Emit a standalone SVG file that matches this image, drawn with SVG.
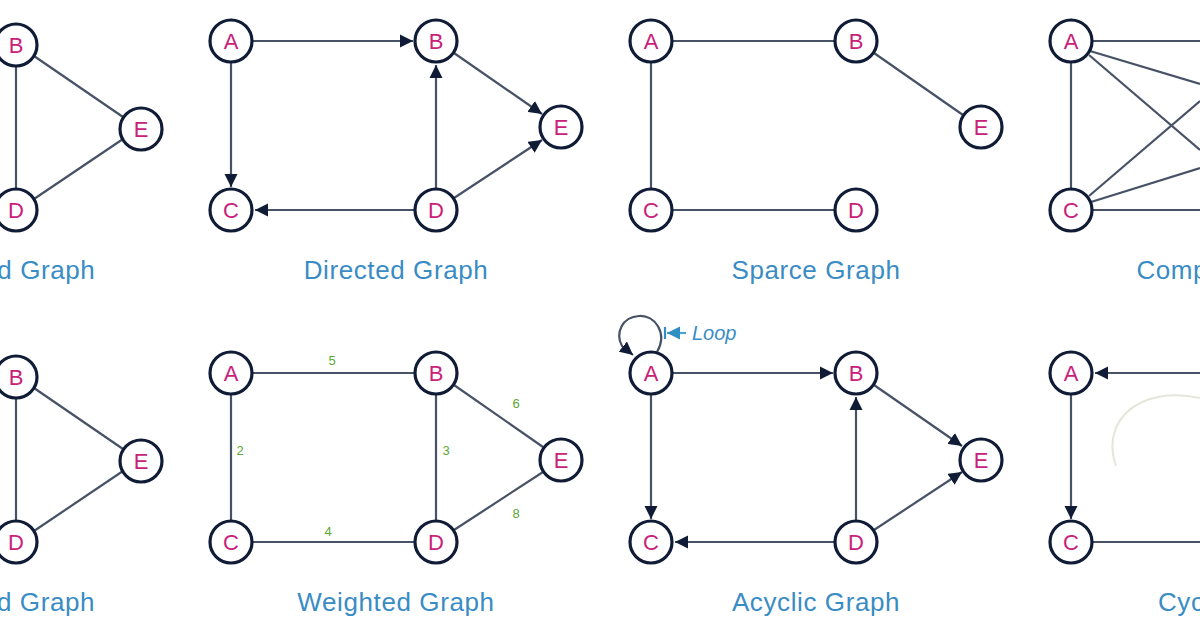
<svg xmlns="http://www.w3.org/2000/svg" width="1200" height="627" viewBox="0 0 1200 627">
<style>
.n circle{fill:#fff;stroke:#101c36;stroke-width:3.2}
.n text{font-family:"Liberation Sans",Arial,sans-serif;font-size:22px;fill:#c8217a;text-anchor:middle;dominant-baseline:central}
.e line,.e path{stroke:#475266;stroke-width:2.2;fill:none}
.t{font-family:"Liberation Sans",Arial,sans-serif;font-size:26px;fill:#3a8cc4;text-anchor:middle;letter-spacing:0.6px}
.w{font-family:"Liberation Sans",Arial,sans-serif;font-size:13px;fill:#5aa832;text-anchor:middle}
</style>
<defs>
<marker id="ar" viewBox="0 0 10 10" refX="10" refY="5" markerWidth="6" markerHeight="6" orient="auto"><path d="M0,0L10,5L0,10z" fill="#101c36"/></marker>
<marker id="ab" viewBox="0 0 10 10" refX="10" refY="5" markerWidth="6" markerHeight="6" orient="auto"><path d="M0,0L10,5L0,10z" fill="#2f8fc2"/></marker>
</defs>
<rect width="1200" height="627" fill="#fff"/>
<g id="connectors" class="e">
<line x1="16" y1="65" x2="16" y2="190"/><line x1="34" y1="56" x2="123" y2="117"/><line x1="34" y1="199" x2="123" y2="139"/>
<line x1="252" y1="41" x2="413" y2="41" marker-end="url(#ar)"/>
<line x1="231" y1="62" x2="231" y2="187" marker-end="url(#ar)"/>
<line x1="415" y1="210" x2="255" y2="210" marker-end="url(#ar)"/>
<line x1="436" y1="189" x2="436" y2="65" marker-end="url(#ar)"/>
<line x1="454" y1="53" x2="542" y2="114" marker-end="url(#ar)"/>
<line x1="454" y1="198" x2="542" y2="140" marker-end="url(#ar)"/>
<line x1="672" y1="41" x2="835" y2="41"/><line x1="651" y1="62" x2="651" y2="189"/><line x1="672" y1="210" x2="835" y2="210"/><line x1="874" y1="53" x2="963" y2="115"/>
<line x1="1071" y1="62" x2="1071" y2="189"/><line x1="1092" y1="41" x2="1200" y2="41"/><line x1="1092" y1="210" x2="1200" y2="210"/>
<line x1="1090" y1="51" x2="1200" y2="84"/><line x1="1089" y1="55" x2="1200" y2="150"/>
<line x1="1089" y1="196" x2="1200" y2="101"/><line x1="1091" y1="202" x2="1200" y2="168"/>
<line x1="16" y1="397" x2="16" y2="522"/><line x1="34" y1="388" x2="123" y2="449"/><line x1="34" y1="531" x2="123" y2="471"/>
<line x1="252" y1="373" x2="415" y2="373"/><line x1="231" y1="394" x2="231" y2="521"/><line x1="252" y1="542" x2="415" y2="542"/><line x1="436" y1="394" x2="436" y2="521"/>
<line x1="454" y1="385" x2="543" y2="447"/><line x1="454" y1="530" x2="543" y2="472"/>
<line x1="672" y1="373" x2="833" y2="373" marker-end="url(#ar)"/>
<line x1="651" y1="394" x2="651" y2="519" marker-end="url(#ar)"/>
<line x1="835" y1="542" x2="675" y2="542" marker-end="url(#ar)"/>
<line x1="856" y1="521" x2="856" y2="397" marker-end="url(#ar)"/>
<line x1="874" y1="385" x2="962" y2="446" marker-end="url(#ar)"/>
<line x1="874" y1="530" x2="962" y2="472" marker-end="url(#ar)"/>
<path d="M657,352 C668,333 655,315 639,316 C622,317 615,333 622,346 L633,355" marker-end="url(#ar)"/>
<line x1="686" y1="333" x2="667" y2="333" style="stroke:#4aa6d0" marker-end="url(#ab)"/>
<line x1="665" y1="327" x2="665" y2="339" style="stroke:#2f8fc2"/>
<line x1="1200" y1="373" x2="1095" y2="373" marker-end="url(#ar)"/>
<line x1="1071" y1="394" x2="1071" y2="519" marker-end="url(#ar)"/>
<line x1="1092" y1="542" x2="1200" y2="542"/>
<path d="M1116,466 C1100,420 1140,385 1200,398" style="stroke:#e4e6dc;stroke-width:2"/>
</g>
<g id="n-0B" class="n"><circle cx="16" cy="45" r="21"/><text x="16" y="45">B</text></g>
<g id="n-0E" class="n"><circle cx="141" cy="129" r="21"/><text x="141" y="129">E</text></g>
<g id="n-0D" class="n"><circle cx="16" cy="210" r="21"/><text x="16" y="210">D</text></g>
<g id="n-1A" class="n"><circle cx="231" cy="41" r="21"/><text x="231" y="41">A</text></g>
<g id="n-1B" class="n"><circle cx="436" cy="41" r="21"/><text x="436" y="41">B</text></g>
<g id="n-1C" class="n"><circle cx="231" cy="210" r="21"/><text x="231" y="210">C</text></g>
<g id="n-1D" class="n"><circle cx="436" cy="210" r="21"/><text x="436" y="210">D</text></g>
<g id="n-1E" class="n"><circle cx="561" cy="127" r="21"/><text x="561" y="127">E</text></g>
<g id="n-2A" class="n"><circle cx="651" cy="41" r="21"/><text x="651" y="41">A</text></g>
<g id="n-2B" class="n"><circle cx="856" cy="41" r="21"/><text x="856" y="41">B</text></g>
<g id="n-2C" class="n"><circle cx="651" cy="210" r="21"/><text x="651" y="210">C</text></g>
<g id="n-2D" class="n"><circle cx="856" cy="210" r="21"/><text x="856" y="210">D</text></g>
<g id="n-2E" class="n"><circle cx="981" cy="127" r="21"/><text x="981" y="127">E</text></g>
<g id="n-3A" class="n"><circle cx="1071" cy="41" r="21"/><text x="1071" y="41">A</text></g>
<g id="n-3C" class="n"><circle cx="1071" cy="210" r="21"/><text x="1071" y="210">C</text></g>
<g id="n-4B" class="n"><circle cx="16" cy="377" r="21"/><text x="16" y="377">B</text></g>
<g id="n-4E" class="n"><circle cx="141" cy="461" r="21"/><text x="141" y="461">E</text></g>
<g id="n-4D" class="n"><circle cx="16" cy="542" r="21"/><text x="16" y="542">D</text></g>
<g id="n-5A" class="n"><circle cx="231" cy="373" r="21"/><text x="231" y="373">A</text></g>
<g id="n-5B" class="n"><circle cx="436" cy="373" r="21"/><text x="436" y="373">B</text></g>
<g id="n-5C" class="n"><circle cx="231" cy="542" r="21"/><text x="231" y="542">C</text></g>
<g id="n-5D" class="n"><circle cx="436" cy="542" r="21"/><text x="436" y="542">D</text></g>
<g id="n-5E" class="n"><circle cx="561" cy="460" r="21"/><text x="561" y="460">E</text></g>
<g id="n-6A" class="n"><circle cx="651" cy="373" r="21"/><text x="651" y="373">A</text></g>
<g id="n-6B" class="n"><circle cx="856" cy="373" r="21"/><text x="856" y="373">B</text></g>
<g id="n-6C" class="n"><circle cx="651" cy="542" r="21"/><text x="651" y="542">C</text></g>
<g id="n-6D" class="n"><circle cx="856" cy="542" r="21"/><text x="856" y="542">D</text></g>
<g id="n-6E" class="n"><circle cx="981" cy="460" r="21"/><text x="981" y="460">E</text></g>
<g id="n-7A" class="n"><circle cx="1071" cy="373" r="21"/><text x="1071" y="373">A</text></g>
<g id="n-7C" class="n"><circle cx="1071" cy="542" r="21"/><text x="1071" y="542">C</text></g>
<g id="labels">
<text class="w" x="332" y="365">5</text><text class="w" x="240" y="455">2</text><text class="w" x="446" y="455">3</text>
<text class="w" x="328" y="536">4</text><text class="w" x="516" y="408">6</text><text class="w" x="516" y="518">8</text>
<text x="692" y="340" style="font-family:'Liberation Sans',Arial,sans-serif;font-size:20px;font-style:italic;fill:#3a8cc4">Loop</text>
<text class="t" x="-12" y="279">Undirected Graph</text>
<text class="t" x="396" y="279">Directed Graph</text>
<text class="t" x="816" y="279">Sparce Graph</text>
<text class="t" x="1236" y="279">Complete Graph</text>
<text class="t" x="-12" y="611">Connected Graph</text>
<text class="t" x="396" y="611">Weighted Graph</text>
<text class="t" x="816" y="611">Acyclic Graph</text>
<text class="t" x="1236" y="611">Cyclic Graph</text>
</g>
</svg>
